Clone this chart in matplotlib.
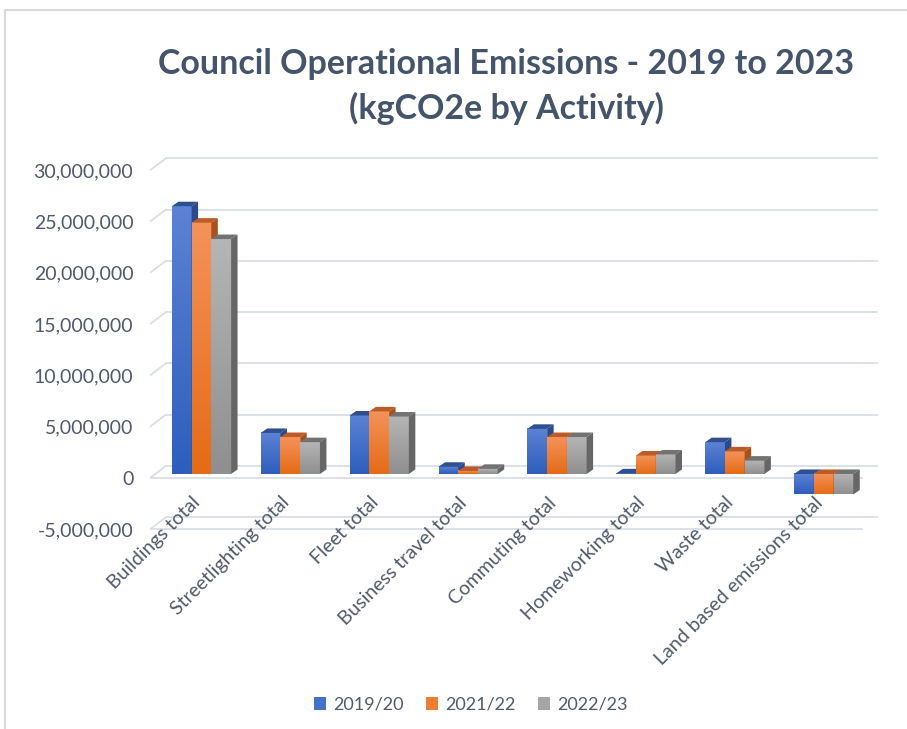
import numpy as np
import matplotlib.pyplot as plt
from matplotlib.patches import Polygon, Patch
from matplotlib.lines import Line2D
from matplotlib.colors import LinearSegmentedColormap
from matplotlib.ticker import FuncFormatter

# данные (kgCO2e)
categories = ['Buildings total', 'Streetlighting total', 'Fleet total', 'Business travel total',
              'Commuting total', 'Homeworking total', 'Waste total', 'Land based emissions total']
series_names = ['2019/20', '2021/22', '2022/23']
v_2019 = [26100000, 4000000, 5700000, 700000, 4400000, 60000, 3100000, -2000000]
v_2021 = [24500000, 3600000, 6100000, 300000, 3600000, 1800000, 2200000, -2000000]
v_2022 = [22900000, 3100000, 5600000, 500000, 3600000, 1900000, 1300000, -2000000]
y_ticks = [-5000000, 0, 5000000, 10000000, 15000000, 20000000, 25000000, 30000000]

values = [v_2019, v_2021, v_2022]
front_top = ['#5b82d4', '#f4925a', '#b5b5b5']
front_bot = ['#2e5ebd', '#e56b16', '#8f8f8f']
top_col = ['#2f4f8f', '#bb5b25', '#727272']
side_col = ['#2c4a88', '#a9511d', '#666666']
legend_col = ['#4472c4', '#ed7d31', '#a5a5a5']
text_col = '#4f5a6b'
grid_col = '#d9dde6'

plt.rcParams['font.family'] = ['Lato', 'DejaVu Sans']

fig = plt.figure(figsize=(9.07, 7.29), dpi=100)
ax = fig.add_axes([150 / 907, 1 - 535 / 729, 728 / 907, 378 / 729])

x_left, x_right = -0.5, 7.69
y_low, y_high = -5.56e6, 31.29e6

# смещения псевдо-3D
wall_dx, wall_dy = 0.18, 1.17e6      # задняя стенка
bar_dx0, bar_dy0 = 0.079, 0.39e6     # положение столбиков внутри глубины
bar_dx, bar_dy = 0.073, 0.44e6       # глубина столбика
bar_w = 0.222

# сетка на задней стенке и диагонали боковой стенки
for v in y_ticks:
    ax.plot([x_left, x_left + wall_dx], [v, v + wall_dy], color=grid_col, lw=1.3, zorder=1)
    ax.plot([x_left + wall_dx, x_right], [v + wall_dy, v + wall_dy], color=grid_col, lw=1.3, zorder=1)
    if v <= 0:
        ax.plot([x_left, x_right - wall_dx], [v, v], color=grid_col, lw=1.3, zorder=1)

# столбики
z = 2
for i in range(len(categories)):
    for s in range(3):
        v = values[s][i]
        x0 = i - 1.5 * bar_w + s * bar_w + bar_dx0
        x1 = x0 + bar_w
        y0 = bar_dy0
        lo, hi = min(y0, y0 + v), max(y0, y0 + v)
        cmap = LinearSegmentedColormap.from_list('g', [front_bot[s], front_top[s]])
        grad = np.linspace(0, 1, 50).reshape(-1, 1)
        ax.imshow(grad, extent=[x0, x1, lo, hi], origin='lower', cmap=cmap,
                  aspect='auto', zorder=z, interpolation='bilinear')
        ax.add_patch(Polygon([[x0, hi], [x1, hi], [x1 + bar_dx, hi + bar_dy], [x0 + bar_dx, hi + bar_dy]],
                             closed=True, facecolor=top_col[s], edgecolor='none', zorder=z))
        ax.add_patch(Polygon([[x1, lo], [x1 + bar_dx, lo + bar_dy], [x1 + bar_dx, hi + bar_dy], [x1, hi]],
                             closed=True, facecolor=side_col[s], edgecolor='none', zorder=z))
        z += 1

ax.set_xlim(x_left, x_right)
ax.set_ylim(y_low, y_high)

for sp in ax.spines.values():
    sp.set_visible(False)
ax.set_xticks([])
ax.set_yticks(y_ticks)
ax.yaxis.set_major_formatter(FuncFormatter(lambda v, p: f'{int(v):,}'))
ax.tick_params(axis='y', length=0, pad=12, labelsize=14, labelcolor=text_col)

# подписи категорий
for i, name in enumerate(categories):
    ax.text(i - 0.03, -1.55e6, name, rotation=45, rotation_mode='anchor', ha='right', va='top',
            fontsize=14, color=text_col)

fig.text(0.558, 1 - 64 / 729, 'Council Operational Emissions - 2019 to 2023', ha='center', va='center',
         fontsize=24.5, fontweight='bold', color='#44546a')
fig.text(0.558, 1 - 108 / 729, '(kgCO2e by Activity)', ha='center', va='center',
         fontsize=24.5, fontweight='bold', color='#44546a')

handles = [Patch(facecolor=c, edgecolor='none') for c in legend_col]
fig.legend(handles, series_names, loc='center', bbox_to_anchor=(0.519, 1 - 705 / 729), ncol=3,
           frameon=False, fontsize=13, handlelength=0.7, handleheight=0.7, handletextpad=0.4,
           columnspacing=1.2, labelcolor=text_col)

# рамка области диаграммы
fig.add_artist(Line2D([5 / 907, 5 / 907], [0, 1 - 10 / 729], color='#d9d9d9', lw=1.5))
fig.add_artist(Line2D([5 / 907, 1], [1 - 10 / 729, 1 - 10 / 729], color='#d9d9d9', lw=1.5))

fig.savefig('out.png', dpi=100)
